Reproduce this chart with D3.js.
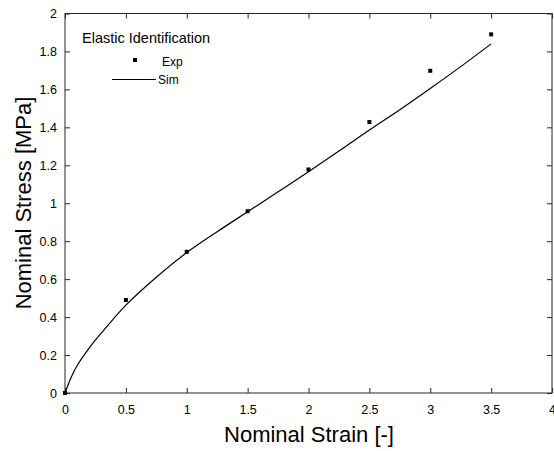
<!DOCTYPE html>
<html>
<head>
<meta charset="utf-8">
<script src="https://cdn.jsdelivr.net/npm/d3@7"></script>
<style>
  body { margin: 0; background: #fff; }
  svg { font-family: "Liberation Sans", Arial, Helvetica, sans-serif; }
</style>
</head>
<body>
<svg></svg>
<script>
// experimental points
var expStrain = [0, 0.5, 1, 1.5, 2, 2.5, 3, 3.5];
var expStress = [0, 0.49, 0.744, 0.958, 1.178, 1.428, 1.698, 1.89];

// simulated curve
var simStrain = [0, 0.05, 0.1, 0.2, 0.3, 0.4, 0.5, 0.75, 1, 1.25, 1.5, 1.75, 2, 2.25, 2.5, 2.75, 3, 3.25, 3.5];
var simStress = [0, 0.082, 0.145, 0.238, 0.317, 0.392, 0.463, 0.61, 0.74, 0.85, 0.955, 1.06, 1.166, 1.275, 1.386, 1.493, 1.605, 1.72, 1.84];

var xTicks = [0, 0.5, 1, 1.5, 2, 2.5, 3, 3.5, 4];
var yTicks = [0, 0.2, 0.4, 0.6, 0.8, 1, 1.2, 1.4, 1.6, 1.8, 2];

var width = 554, height = 451;
var plotL = 65, plotR = 552, plotT = 13.5, plotB = 393;

var svg = d3.select('svg')
            .attr('width', width)
            .attr('height', height);

var xScale = d3.scaleLinear().domain([0, 4]).range([plotL, plotR]);
var yScale = d3.scaleLinear().domain([0, 2]).range([plotB, plotT]);

var axisColor = '#262626';

// axes, ticks inward on all four sides
function styleAxis(g) {
  g.select('.domain').remove();
  g.selectAll('line').attr('stroke', axisColor);
  g.selectAll('text').attr('fill', '#000').style('font-size', '12.5px');
}

svg.append('g')
   .attr('transform', `translate(0,${plotB})`)
   .call(d3.axisBottom(xScale).tickValues(xTicks).tickSize(-5).tickPadding(12).tickFormat(d3.format('')))
   .call(styleAxis);
svg.append('g')
   .attr('transform', `translate(0,${plotT})`)
   .call(d3.axisTop(xScale).tickValues(xTicks).tickSize(-5).tickFormat(''))
   .call(styleAxis);
svg.append('g')
   .attr('transform', `translate(${plotL},0)`)
   .call(d3.axisLeft(yScale).tickValues(yTicks).tickSize(-5).tickPadding(8).tickFormat(d3.format('')))
   .call(styleAxis);
svg.append('g')
   .attr('transform', `translate(${plotR},0)`)
   .call(d3.axisRight(yScale).tickValues(yTicks).tickSize(-5).tickFormat(''))
   .call(styleAxis);

svg.append('rect')
   .attr('x', plotL).attr('y', plotT)
   .attr('width', plotR - plotL).attr('height', plotB - plotT)
   .attr('fill', 'none').attr('stroke', axisColor).attr('stroke-width', 1);

// sim line
var line = d3.line()
             .x(d => xScale(d[0]))
             .y(d => yScale(d[1]))
             .curve(d3.curveCatmullRom.alpha(0.5));

svg.append('path')
   .datum(simStrain.map((s, i) => [s, simStress[i]]))
   .attr('d', line)
   .attr('fill', 'none')
   .attr('stroke', '#000')
   .attr('stroke-width', 1.2);

// exp markers
svg.selectAll('rect.exp')
   .data(expStrain.map((s, i) => [s, expStress[i]]))
   .enter()
   .append('rect')
   .attr('class', 'exp')
   .attr('x', d => xScale(d[0]) - 2)
   .attr('y', d => yScale(d[1]) - 2)
   .attr('width', 4)
   .attr('height', 4)
   .attr('fill', '#000');

// legend
svg.append('text').attr('x', 82).attr('y', 43)
   .style('font-size', '14.5px').text('Elastic Identification');
svg.append('rect').attr('x', 133).attr('y', 58).attr('width', 4).attr('height', 4).attr('fill', '#000');
svg.append('text').attr('x', 162).attr('y', 65.5)
   .style('font-size', '12px').text('Exp');
svg.append('line').attr('x1', 112).attr('x2', 156).attr('y1', 79.5).attr('y2', 79.5)
   .attr('stroke', '#000').attr('stroke-width', 1);
svg.append('text').attr('x', 158).attr('y', 84)
   .style('font-size', '12px').text('Sim');

// axis labels
svg.append('text')
   .attr('x', 309).attr('y', 442)
   .attr('text-anchor', 'middle')
   .style('font-size', '22px')
   .text('Nominal Strain [-]');
svg.append('text')
   .attr('transform', 'translate(31,203) rotate(-90)')
   .attr('text-anchor', 'middle')
   .style('font-size', '22px')
   .text('Nominal Stress [MPa]');
</script>
</body>
</html>
